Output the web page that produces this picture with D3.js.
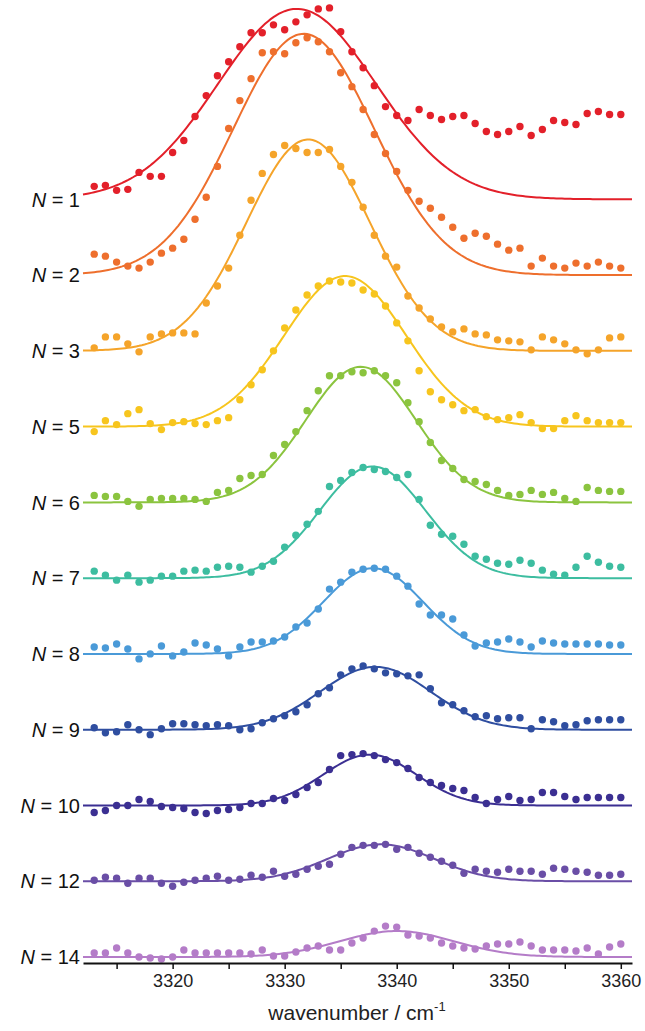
<!DOCTYPE html>
<html>
<head>
<meta charset="utf-8">
<script src="https://cdn.jsdelivr.net/npm/d3@7"></script>
<style>
  body { margin: 0; background: #fff; }
  svg { display: block; font-family: "Liberation Sans", Arial, sans-serif; }
</style>
</head>
<body>
<script>
/* global d3 */

const width = 645
const height = 1031

// traces, top to bottom
const clusterSizes = [1, 2, 3, 5, 6, 7, 8, 9, 10, 12, 14]
const colors = ['#e3202a', '#ee6f2d', '#f5a42a', '#f7c51e', '#8bc43f', '#3dbda0',
  '#4a9ad8', '#2f4ea0', '#3b2f92', '#6a4ea6', '#b47cc8']

// measured points, one per cm-1
const wavenumbers = d3.range(3313, 3361)
const traceStep = 76 // offset between stacked traces (arb. units)

const n1 = [13, 14, 9, 10, 27, 23, 23, 47, 59, 83, 104, 124, 138, 153, 167, 167, 175, 170, 178, 185,
  191, 192, 168, 148, 132, 114, 93, 84, 79, 90, 84, 80, 83, 84, 76, 68, 65, 68, 73, 64,
  70, 79, 77, 75, 86, 88, 85, 85]
const n2 = [21, 19, 13, 9, 7, 13, 22, 27, 36, 56, 78, 109, 147, 175, 197, 223, 224, 222, 233, 238,
  234, 224, 203, 189, 166, 141, 122, 104, 85, 74, 67, 58, 48, 37, 42, 39, 31, 25, 27, 9,
  17, 9, 7, 12, 9, 13, 9, 7]
const n3 = [3, 14, 14, 7, -1, 14, 17, 18, 18, 17, 48, 65, 83, 116, 151, 178, 197, 206, 203, 199,
  199, 202, 185, 169, 144, 116, 95, 84, 55, 43, 32, 24, 19, 22, 17, 16, 11, 10, 9, 1,
  14, 11, 7, 1, -3, 1, 13, 14]
const n5 = [-5, 6, 2, 13, 17, 3, -3, 4, 5, 3, 2, 6, 9, 27, 42, 57, 76, 99, 117, 132,
  141, 146, 145, 144, 137, 133, 121, 104, 86, 56, 35, 27, 22, 16, 17, 10, 7, 9, 12, 4,
  -2, -2, 6, 11, 6, 4, 4, 4]
const n6 = [7, 6, 6, 1, -4, 3, 4, 4, 4, 3, 1, 10, 12, 24, 27, 28, 47, 58, 71, 92,
  112, 127, 127, 131, 130, 132, 127, 120, 100, 81, 60, 42, 34, 23, 21, 18, 12, 7, 8, 12,
  8, 10, 4, 1, 15, 12, 11, 11]
const n7 = [7, 3, -2, 3, -4, -2, 2, 2, 7, 8, 7, 11, 12, 11, 6, 12, 17, 31, 43, 54,
  67, 92, 98, 106, 111, 109, 107, 101, 104, 79, 53, 44, 42, 34, 22, 19, 15, 14, 18, 15,
  8, 4, 3, 11, 22, 16, 12, 11]
const n8 = [7, 6, 10, 5, -5, 0, 8, -2, 2, 11, 9, 5, -2, 7, 12, 12, 13, 17, 27, 31,
  45, 65, 72, 82, 85, 86, 85, 78, 68, 50, 39, 39, 35, 19, 8, 11, 12, 15, 12, 7,
  13, 11, 10, 10, 10, 10, 9, 9]
const n9 = [2, -3, -2, 5, 0, -5, 1, 6, 6, 5, 4, 5, 4, 0, 1, 7, 11, 14, 18, 25,
  36, 42, 55, 61, 64, 61, 57, 56, 54, 55, 41, 27, 25, 19, 13, 14, 11, 12, 12, 1,
  10, 8, 4, 5, 9, 10, 10, 10]
const n10 = [-7, -5, 0, 0, 6, 4, -1, -2, -3, -7, -8, -5, -4, -2, 2, 2, 7, 5, 11, 18,
  23, 36, 50, 51, 52, 50, 46, 43, 37, 28, 23, 20, 17, 15, 8, 2, 6, 9, 5, 6,
  13, 13, 9, 6, 8, 8, 8, 8]
const n12 = [1, 4, 3, -2, 3, 3, -2, -5, -1, 1, 3, 5, 1, 2, 6, 4, 10, 5, 7, 12,
  15, 17, 27, 34, 36, 36, 37, 32, 34, 28, 24, 20, 16, 8, 12, 10, 9, 12, 10, 10,
  7, 13, 12, 10, 9, 6, 6, 7]
const n14 = [4, 4, 9, 4, 0, -1, -2, 0, 7, 4, 4, 4, 4, 4, 3, 7, 1, 1, 5, 9,
  11, 7, 7, 14, 19, 26, 31, 30, 22, 21, 19, 14, 11, 9, 8, 11, 13, 13, 15, 11,
  7, 7, 7, 6, 9, 3, 10, 13]
const spectra = [n1, n2, n3, n5, n6, n7, n8, n9, n10, n12, n14]

// gaussian fit parameters
const fitCenter = [3331.1, 3331.7, 3332.1, 3335.4, 3336.8, 3337.85, 3337.9, 3338.1, 3337.6, 3338.6, 3340.0]
const fitFwhm = [16.6, 14.8, 13.0, 12.8, 11.6, 11.1, 10.5, 11.6, 9.8, 11.2, 12.0]
const fitHeight = [191, 242, 212, 151, 136, 112, 86, 63, 51, 37, 26]

const xTicks = [3315, 3320, 3325, 3330, 3335, 3340, 3345, 3350, 3355, 3360]

const svg = d3.select('body').append('svg')
  .attr('width', width)
  .attr('height', height)

const x = d3.scaleLinear()
  .domain([3312, 3361])
  .range([83, 632])

const y = d3.scaleLinear()
  .domain([0, 10 * traceStep])
  .range([957, 199.3])

const nTraces = clusterSizes.length
const offset = i => (nTraces - 1 - i) * traceStep

const fitX = d3.range(3312, 3361.001, 0.25)
const line = d3.line()
  .x(d => x(d[0]))
  .y(d => y(d[1]))

clusterSizes.forEach((size, i) => {
  const g = svg.append('g')
  const k = 4 * Math.LN2 / (fitFwhm[i] * fitFwhm[i])
  const fit = fitX.map(w => [w, offset(i) + fitHeight[i] * Math.exp(-k * (w - fitCenter[i]) ** 2)])

  g.append('path')
    .attr('d', line(fit))
    .attr('fill', 'none')
    .attr('stroke', colors[i])
    .attr('stroke-width', 2)

  g.selectAll('circle')
    .data(spectra[i])
    .enter().append('circle')
    .attr('cx', (d, j) => x(wavenumbers[j]))
    .attr('cy', d => y(offset(i) + d))
    .attr('r', 3.7)
    .attr('fill', colors[i])

  const label = svg.append('text')
    .attr('x', 80)
    .attr('y', y(offset(i)))
    .attr('dy', '0.36em')
    .attr('text-anchor', 'end')
    .attr('font-size', 20)
    .attr('fill', '#111')
  label.append('tspan').attr('font-style', 'italic').text('N')
  label.append('tspan').text(' = ' + size)
})

const axis = svg.append('g')
  .attr('transform', 'translate(0,963)')
  .call(d3.axisBottom(x)
    .tickValues(xTicks)
    .tickSize(6)
    .tickSizeOuter(0)
    .tickFormat(d => d % 10 === 0 ? d : ''))

axis.select('.domain').attr('stroke', '#111').attr('stroke-width', 2)
axis.selectAll('.tick line').attr('stroke', '#111').attr('stroke-width', 1.5)
axis.selectAll('.tick text')
  .attr('font-size', 18)
  .attr('font-family', '"Liberation Sans", Arial, sans-serif')
  .attr('fill', '#222')
  .attr('dy', '0.85em')

const title = svg.append('text')
  .attr('x', 357)
  .attr('y', 1020)
  .attr('text-anchor', 'middle')
  .attr('font-size', 21)
  .attr('fill', '#222')
title.append('tspan').text('wavenumber / cm')
title.append('tspan').attr('font-size', 13).attr('dy', -9).text('-1')
</script>
</body>
</html>
